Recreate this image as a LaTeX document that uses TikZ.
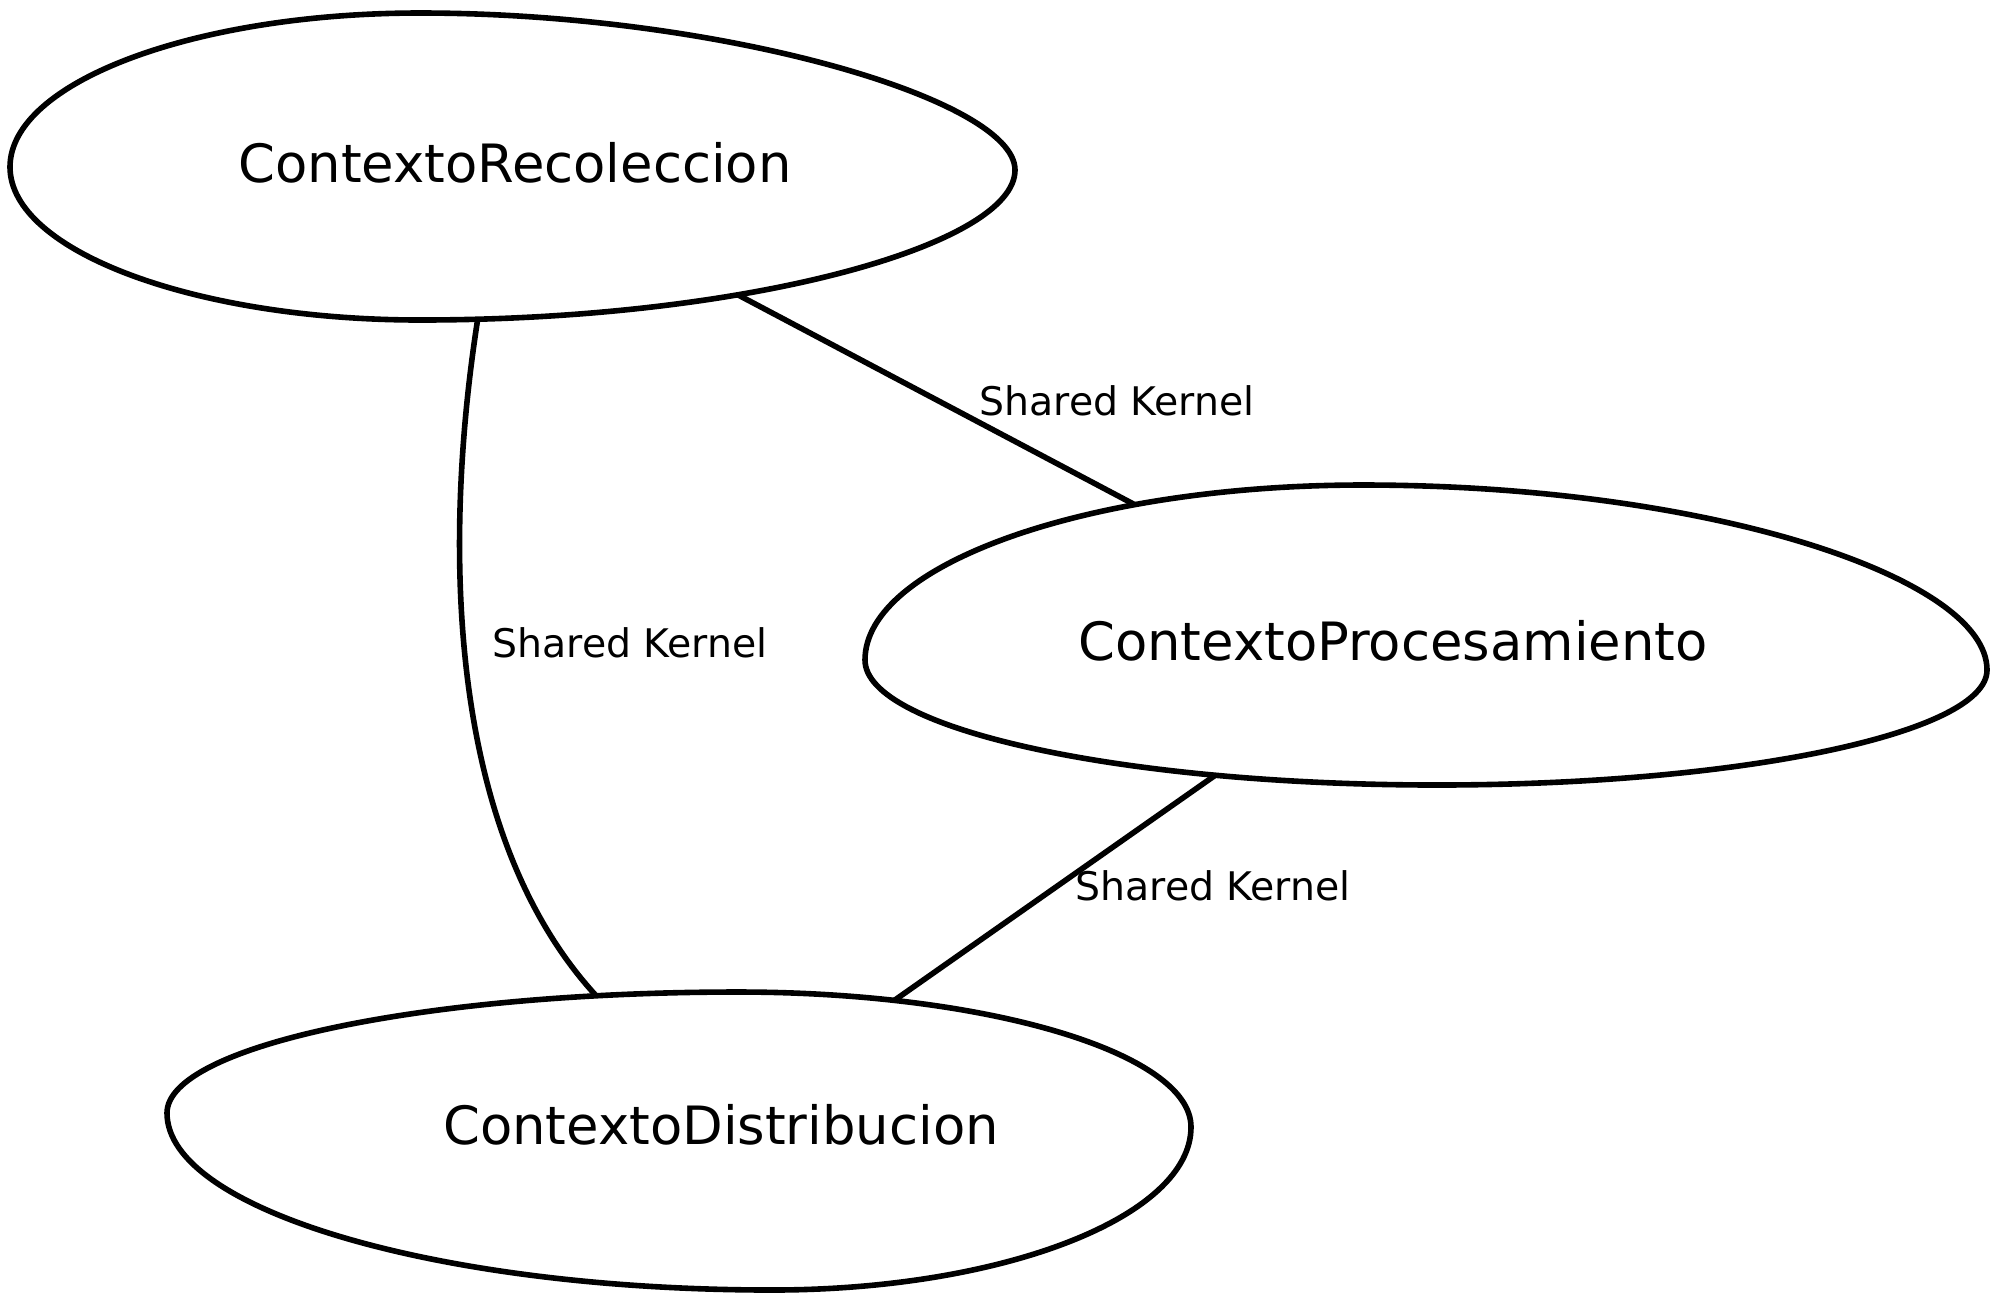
\documentclass[tikz,border=0pt]{standalone}
\usepackage{fontspec}
\setmainfont{DejaVu Sans}
\begin{document}
\begin{tikzpicture}[x=0.5pt,y=-0.5pt,
  blob/.style={draw=black,line width=2.8pt,fill=white},
  ctxtext/.style={inner sep=0pt,font=\fontsize{26.4}{30}\selectfont},
  edgelabel/.style={inner sep=0pt,font=\fontsize{19.7}{23}\selectfont},
  link/.style={draw=black,line width=2.8pt}]
\useasboundingbox (0,0) rectangle (2000,1303);
% edge end points (just inside the shapes, covered by them)
\coordinate (recA) at (725,288);
\coordinate (recB) at (479,311);
\coordinate (proA) at (1141,508);
\coordinate (proB) at (1217,774);
\coordinate (disA) at (603,1003);
\coordinate (disB) at (892,1002);
% connectors
\draw[link] (recA) -- (proA);
\draw[link] (recB) .. controls (442,540) and (445,840) .. (disA);
\draw[link] (proB) -- (disB);
% shapes
\draw[blob] (10,167) .. controls (10,82) and (195,13) .. (420,13)
  .. controls (718,13) and (1015,99) .. (1015,170)
  .. controls (1015,245) and (747,320) .. (420,320)
  .. controls (195,320) and (10,251) .. cycle;
\draw[blob] (865,660) .. controls (865,564) and (1089,485) .. (1363,485)
  .. controls (1706,485) and (1987,577) .. (1987,670)
  .. controls (1987,733) and (1740,785) .. (1437,785)
  .. controls (1122,785) and (865,729) .. cycle;
\draw[blob] (167,1113) .. controls (167,1046) and (424,992) .. (738,992)
  .. controls (987,992) and (1191,1053) .. (1191,1127)
  .. controls (1191,1217) and (1002,1290) .. (772,1290)
  .. controls (439,1290) and (167,1210) .. cycle;
% texts
\node[ctxtext] (rec) at (515,163) {ContextoRecoleccion};
\node[ctxtext] (pro) at (1393,641) {ContextoProcesamiento};
\node[ctxtext] (dis) at (721,1125) {ContextoDistribucion};
% labels
\node[edgelabel] (l1) at (1117,401) {Shared Kernel};
\node[edgelabel] (l2) at (630,643) {Shared Kernel};
\node[edgelabel] (l3) at (1213,886) {Shared Kernel};
\end{tikzpicture}
\end{document}
